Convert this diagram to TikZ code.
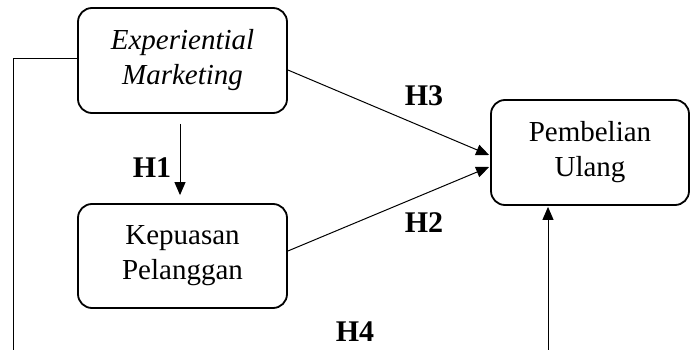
\documentclass[tikz,border=0pt]{standalone}
\usepackage{fontspec}
\setmainfont{Liberation Serif}
\usetikzlibrary{arrows.meta}
\tikzset{
  varbox/.style={draw, line width=1.8pt, rounded corners=14pt, align=center,
    font=\fontsize{29}{35}\selectfont, inner sep=0pt},
  hlabel/.style={font=\fontsize{30}{36}\selectfont\bfseries, inner sep=0pt},
  conn/.style={line width=1pt},
  arr/.style={line width=1pt, -{Triangle[length=13pt,width=11pt]}}
}
\begin{document}
\begin{tikzpicture}[x=1pt,y=-1pt]
\useasboundingbox (0,0) rectangle (691,350);
\node[varbox, minimum width=209pt, minimum height=105pt] (E) at (182.5,60.5) {\itshape Experiential\\\itshape Marketing};
\node[varbox, minimum width=209pt, minimum height=104pt] (K) at (182.5,256) {Kepuasan\\Pelanggan};
\node[varbox, minimum width=198pt, minimum height=105pt] (P) at (590,152.5) {Pembelian\\Ulang};
\node[hlabel] (H1) at (152,168) {H1};
\node[hlabel] (H3) at (424,96) {H3};
\node[hlabel] (H2) at (424,223) {H2};
\node[hlabel] (H4) at (355,332) {H4};
\coordinate (L) at (13,351);
\coordinate (B) at (548,351);
\draw[arr] ([xshift=-2.5pt,yshift=-10pt]E.south) -- ([xshift=-2.5pt,yshift=8pt]K.north);
\draw[arr] ([yshift=-9.5pt]E.east) -- ([xshift=-1pt,yshift=-2.5pt]P.west);
\draw[arr] ([yshift=5pt]K.east) -- ([xshift=-1pt,yshift=-14.5pt]P.west);
\draw[conn] ([yshift=1.5pt]E.west) -| (L);
\draw[arr] (B) -- ([xshift=-42pt,yshift=-1pt]P.south);
\end{tikzpicture}
\end{document}
